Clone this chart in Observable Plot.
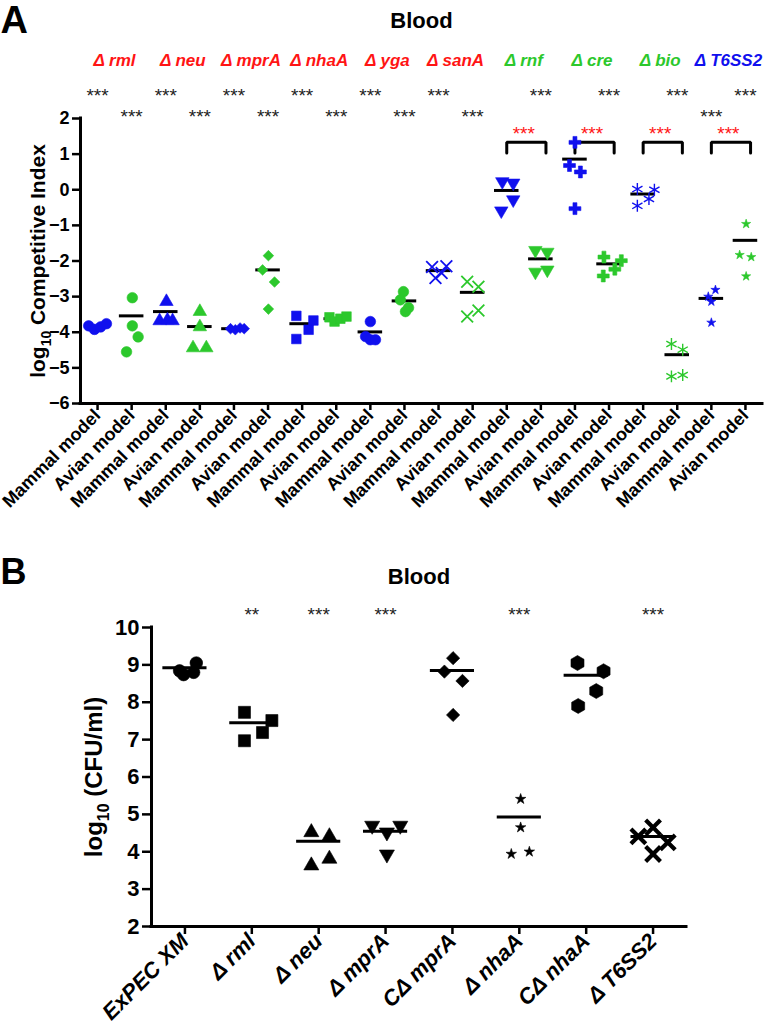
<!DOCTYPE html>
<html><head><meta charset="utf-8">
<script src="https://cdn.jsdelivr.net/npm/d3@7"></script>
<script src="https://cdn.jsdelivr.net/npm/@observablehq/plot@0.6"></script>
<style>
html,body{margin:0;padding:0;background:#fff;}
svg{display:block;}
</style></head><body>
<script>
// ---------------- Panel A data ----------------
const genesA = ["rml","neu","mprA","nhaA","yga","sanA","rnf","cre","bio","T6SS2"];
const geneClassA = [1,1,1,1,1,1,2,2,2,3];
const modelsA = ["Mammal model","Avian model"];
const valuesA = [
  [-3.82,-3.92,-3.85,-3.76],[-3.03,-3.82,-4.13,-4.55],
  [-3.14,-3.68,-3.66,-3.68],[-3.42,-3.85,-4.44,-4.44],
  [-3.90,-3.93,-3.88,-3.90],[-1.85,-2.25,-2.59,-3.35],
  [-3.54,-3.93,-3.67,-4.19],[-3.58,-3.70,-3.62,-3.56],
  [-3.70,-4.12,-4.21,-4.21],[-2.86,-3.09,-3.31,-3.42],
  [-2.17,-2.15,-2.34,-2.48],[-2.58,-2.72,-3.56,-3.39],
  [0.23,0.19,-0.28,-0.59],[-1.70,-1.75,-2.31,-2.25],
  [1.33,0.68,0.50,-0.53],[-1.89,-1.99,-2.23,-2.42],
  [0.02,0.00,-0.26,-0.45],[-4.33,-4.49,-5.24,-5.20],
  [-3.00,-2.81,-3.14,-3.73],[-0.96,-1.83,-1.89,-2.43]
];
const jitterA = [
  [-0.26,-0.09,0.09,0.26],[0.02,0.02,0.19,-0.15],
  [0.02,-0.18,0.05,0.20],[0,0,-0.20,0.19],
  [-0.10,0.04,0.18,0.30],[0.01,-0.16,0.19,0.01],
  [-0.17,0.19,0.33,-0.17],[-0.20,-0.05,0.12,0.30],
  [0,-0.14,0,0.15],[-0.03,-0.12,0.12,0.03],
  [-0.19,0.23,0.09,-0.09],[-0.16,0.17,-0.16,0.17],
  [-0.13,0.19,0.19,-0.16],[-0.16,0.19,-0.16,0.19],
  [0,-0.16,0.16,0],[-0.15,0.36,0.17,-0.17],
  [-0.17,0.33,0.17,-0.17],[-0.17,0.16,-0.17,0.16],
  [-0.09,0.12,0,0],[0.02,-0.17,0.17,0.02]
];
const meanA = [-3.84,-3.54,-3.42,-3.84,-3.90,-2.25,-3.76,-3.62,-3.99,-3.12,-2.27,-2.88,-0.02,-1.94,0.86,-2.08,-0.12,-4.63,-3.05,-1.42];
const starsTopA = [0,2,4,6,8,10,13,15,17,19];
const starsLowA = [1,3,5,7,9,11,18];
const redPairsA = [12,14,16,18];
const starTextA = "***";

// ---------------- Panel B data ----------------
const strainsB = ["ExPEC XM","Δ rml","Δ neu","Δ mprA","CΔ mprA","Δ nhaA","CΔ nhaA","Δ T6SS2"];
const valuesB = [
  [8.84,8.74,8.80,9.05],[7.73,7.51,7.19,6.97],
  [4.52,4.41,3.81,3.63],[4.70,4.52,4.70,3.93],
  [9.18,8.82,8.57,7.66],[5.41,4.65,3.94,4.00],
  [9.05,8.83,8.30,7.90],[4.65,4.41,4.25,3.94]
];
const jitterB = [
  [-0.08,-0.02,0.13,0.17],[-0.11,0.30,0.16,-0.11],
  [-0.11,0.16,0.16,-0.11],[-0.20,0.02,0.22,0.02],
  [0.01,-0.12,0.15,0.01],[0.02,0.02,-0.12,0.15],
  [-0.13,0.26,0.15,-0.12],[0,-0.22,0.22,0]
];
const meanB = [8.92,7.45,4.28,4.55,8.85,4.93,8.72,4.41];
const starsB = [[1,"**"],[2,"***"],[3,"***"],[5,"***"],[7,"***"]];

// ---------------- styles ----------------
const FONT = "'Liberation Sans', Arial, Helvetica, sans-serif";
const BLUE = "#1010ee", GREEN = "#2cc82c", RED = "#ff1414", STAR = "#222";
const classColor = {1: RED, 2: GREEN, 3: BLUE};
const symA = {
  rml:{s:"circle",r:5.3}, neu:{s:"triangle",r:5.0}, mprA:{s:"diamond2",r:4.8},
  nhaA:{s:"square",r:5.4}, yga:{s:"circle",r:5.3}, sanA:{s:"times",r:5.4,line:1.8},
  rnf:{s:"triangle",r:5.0,rot:180}, cre:{s:"cross",r:5.0}, bio:{s:"asterisk",r:5.6,line:1.4},
  T6SS2:{s:"star",r:2.9}
};
const symB = [
  {s:"circle",r:6.3},{s:"square",r:6.8},{s:"triangle",r:5.6},{s:"triangle",r:5.6,rot:180},
  {s:"diamond2",r:6.0},{s:"star",r:3.3},{s:"hexagon",r:6.5},{s:"times",r:6.8,line:4.2}
];

function dotMark(rows, spec, color) {
  const stroky = spec.line != null;
  const o = {x: "x", y: "v", symbol: spec.s, r: spec.r};
  if (spec.rot) o.rotate = spec.rot;
  if (stroky) { o.fill = "none"; o.stroke = color; o.strokeWidth = spec.line; }
  else { o.fill = color; o.stroke = color; o.strokeWidth = 0.6; }
  return Plot.dot(rows, o);
}

function subscript(svg, fs) {
  const ns = "http://www.w3.org/2000/svg";
  svg.querySelectorAll("text").forEach(t => {
    const s = t.textContent;
    if (!s.startsWith("log10")) return;
    while (t.firstChild) t.removeChild(t.firstChild);
    t.setAttribute("text-anchor", "middle");
    const a = document.createElementNS(ns, "tspan"); a.textContent = "log";
    const b = document.createElementNS(ns, "tspan"); b.textContent = "10";
    b.setAttribute("dy", 0.28 * fs); b.setAttribute("font-size", 0.66 * fs);
    const c = document.createElementNS(ns, "tspan"); c.textContent = s.slice(5);
    c.setAttribute("dy", -0.28 * fs);
    t.append(a, b, c);
  });
}

// ---------------- Panel A ----------------
const rowsA = [];
valuesA.forEach((vals, g) => vals.forEach((v, k) => rowsA.push({g, gene: genesA[Math.floor(g / 2)], x: g + jitterA[g][k], v})));
const meanRowsA = meanA.map((v, g) => ({g, v}));
const bracketRows = [];
redPairsA.forEach(p => {
  [[p, 1.03], [p, 1.33], [p + 1.15, 1.33], [p + 1.15, 1.03]].forEach(([x, y]) => bracketRows.push({p, x, y}));
});

const marksA = [
  Plot.ruleX([-0.5], {strokeWidth: 3, strokeLinecap: "square"}),
  Plot.ruleY([-6], {strokeWidth: 3, strokeLinecap: "square"}),
  Plot.axisY(d3.range(-6, 3), {tickSize: 8, tickPadding: 3, strokeWidth: 2.5, fontSize: 18, fontWeight: "bold", label: null}),
  Plot.axisX(d3.range(20), {tickFormat: i => modelsA[i % 2], tickRotate: -45, tickSize: 7, tickPadding: 2, strokeWidth: 2.5, fontSize: 18, fontWeight: "bold", label: null}),
  Plot.text(["A"], {text: d => d, frameAnchor: "top-left", dx: -80, dy: -112, lineAnchor: "top", textAnchor: "start", fontSize: 38, fontWeight: "bold"}),
  Plot.text(["Blood"], {text: d => d, frameAnchor: "top", dy: -98, lineAnchor: "middle", textAnchor: "middle", fontSize: 22, fontWeight: "bold"}),
  Plot.text(["log10 Competitive Index"], {text: d => d, frameAnchor: "left", dx: -42, rotate: -90, textAnchor: "middle", lineAnchor: "middle", fontSize: 21, fontWeight: "bold"}),
];
[1, 2, 3].forEach(c => {
  const idx = genesA.map((g, i) => i).filter(i => geneClassA[i] === c);
  marksA.push(Plot.text(idx, {x: i => 2 * i + 0.5, y: 3.62, text: i => "Δ " + genesA[i], fill: classColor[c], fontSize: 17, fontWeight: "bold", fontStyle: "italic"}));
});
marksA.push(
  Plot.text(starsTopA, {x: d => d, y: 2.63, text: () => starTextA, fill: STAR, fontSize: 19}),
  Plot.text(starsLowA, {x: d => d, y: 2.05, text: () => starTextA, fill: STAR, fontSize: 19}),
  Plot.text(redPairsA, {x: d => d + 0.5, y: 1.56, text: () => starTextA, fill: RED, fontSize: 19}),
  Plot.line(bracketRows, {x: "x", y: "y", z: "p", stroke: "black", strokeWidth: 3, strokeLinejoin: "miter"}),
  Plot.ruleY(meanRowsA, {y: "v", x1: d => d.g - 0.36, x2: d => d.g + 0.36, strokeWidth: 3})
);
for (let g = 0; g < 20; g++) {
  const gene = genesA[Math.floor(g / 2)];
  marksA.push(dotMark(rowsA.filter(d => d.g === g), symA[gene], g % 2 === 0 ? BLUE : GREEN));
}

const plotA = Plot.plot({
  width: 766, height: 540,
  marginTop: 118, marginBottom: 137, marginLeft: 80, marginRight: 4,
  x: {domain: [-0.5, 19.5]},
  y: {domain: [-6, 2]},
  style: {fontFamily: FONT, background: "white", color: "black", overflow: "visible"},
  marks: marksA
});
subscript(plotA, 21);

// ---------------- Panel B ----------------
const rowsB = [];
valuesB.forEach((vals, g) => vals.forEach((v, k) => rowsB.push({g, x: g + jitterB[g][k], v})));
const meanRowsB = meanB.map((v, g) => ({g, v}));

const marksB = [
  Plot.ruleX([-0.5], {strokeWidth: 3, strokeLinecap: "square"}),
  Plot.ruleY([2], {strokeWidth: 3, strokeLinecap: "square"}),
  Plot.axisY(d3.range(2, 11), {tickSize: 9, tickPadding: 3, strokeWidth: 2.5, fontSize: 22, fontWeight: "bold", label: null}),
  Plot.axisX(d3.range(8), {tickFormat: i => strainsB[i], tickRotate: -45, tickSize: 8, tickPadding: 3, strokeWidth: 2.5, fontSize: 22, fontWeight: "bold", fontStyle: "italic", label: null}),
  Plot.text(["B"], {text: d => d, frameAnchor: "top-left", dx: -151, dy: -69, lineAnchor: "top", textAnchor: "start", fontSize: 36, fontWeight: "bold"}),
  Plot.text(["Blood"], {text: d => d, frameAnchor: "top", dy: -51, lineAnchor: "middle", textAnchor: "middle", fontSize: 22, fontWeight: "bold"}),
  Plot.text(["log10 (CFU/ml)"], {text: d => d, frameAnchor: "left", dx: -57, rotate: -90, textAnchor: "middle", lineAnchor: "middle", fontSize: 24, fontWeight: "bold"}),
  Plot.text(starsB, {x: d => d[0], y: 10.33, text: d => d[1], fill: STAR, fontSize: 19}),
  Plot.ruleY(meanRowsB, {y: "v", x1: d => d.g - 0.33, x2: d => d.g + 0.33, strokeWidth: 3})
];
for (let g = 0; g < 8; g++) {
  marksB.push(dotMark(rowsB.filter(d => d.g === g), symB[g], "black"));
}

const plotB = Plot.plot({
  width: 766, height: 495,
  marginTop: 87, marginBottom: 109, marginLeft: 151, marginRight: 80,
  x: {domain: [-0.5, 7.5]},
  y: {domain: [2, 10]},
  style: {fontFamily: FONT, background: "white", color: "black", overflow: "visible"},
  marks: marksB
});
subscript(plotB, 24);

document.body.append(plotA, plotB);
</script>
</body></html>
